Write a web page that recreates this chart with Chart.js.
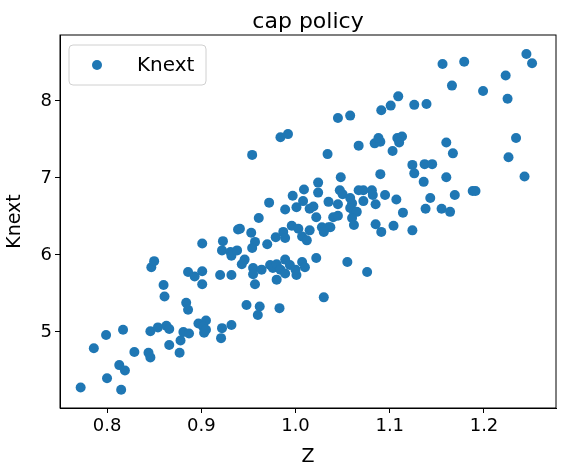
<!DOCTYPE html>
<html>
<head>
<meta charset="utf-8">
<script src="https://cdn.jsdelivr.net/npm/chart.js@4"></script>
<style>
  body { margin: 0; background: #fff; }
  #wrap { width: 564px; height: 472px; }
</style>
</head>
<body>
<div id="wrap"><canvas id="chart" width="564" height="472"></canvas></div>
<script>
const zValues = [
  1.245, 1.251, 1.156, 1.179, 1.223, 1.166, 1.199, 1.225, 1.109, 1.101,
  1.091, 1.126, 1.139, 1.045, 1.058, 1.234, 1.226, 1.243, 1.160, 1.167,
  1.067, 1.034, 1.084, 1.090, 1.088, 1.108, 1.113, 1.110, 1.103, 1.124,
  1.126, 1.137, 1.145, 1.090, 1.136, 1.160, 1.048, 1.047, 1.050, 1.067,
  1.072, 1.081, 1.082, 1.188, 1.191, 1.169, 1.095, 1.107, 1.143, 1.058,
  1.060, 1.058, 1.062, 1.065, 1.072, 1.035, 1.045, 1.085, 1.114, 1.138,
  1.155, 1.164, 1.040, 1.045, 1.060, 1.062, 1.028, 1.035, 1.037, 1.085,
  1.091, 1.104, 1.124, 1.055, 1.076, 1.024, 1.024, 1.009, 0.997, 1.008,
  0.972, 0.989, 1.001, 1.015, 1.019, 1.022, 0.961, 0.941, 0.953, 0.957,
  0.954, 0.970, 0.979, 0.987, 0.989, 0.996, 1.003, 1.007, 1.012, 1.015,
  1.030, 0.946, 0.943, 0.955, 0.955, 0.957, 0.964, 0.973, 0.976, 0.980,
  0.984, 0.989, 0.989, 0.980, 0.994, 1.001, 1.007, 1.010, 1.000, 1.022,
  1.030, 0.948, 0.962, 0.960, 0.983, 0.772, 0.800, 0.815, 0.813, 0.819,
  0.786, 0.799, 0.817, 0.829, 0.844, 0.846, 0.846, 0.854, 0.863, 0.866,
  0.866, 0.877, 0.878, 0.881, 0.887, 0.897, 0.905, 0.902, 0.903, 0.905,
  0.921, 0.922, 0.932, 0.884, 0.886, 0.860, 0.861, 0.847, 0.850, 0.886,
  0.893, 0.901, 0.901, 0.901, 0.920, 0.932, 0.923, 0.922, 0.931, 0.932,
  0.938, 0.939, 0.984, 0.992, 0.954
];
const knextValues = [
  8.61, 8.49, 8.48, 8.51, 8.33, 8.20, 8.13, 8.03, 8.06, 7.94,
  7.88, 7.95, 7.96, 7.78, 7.81, 7.52, 7.27, 7.02, 7.46, 7.32,
  7.42, 7.31, 7.45, 7.47, 7.52, 7.52, 7.54, 7.46, 7.35, 7.17,
  7.06, 7.18, 7.18, 7.05, 6.95, 7.01, 7.01, 6.84, 6.79, 6.84,
  6.84, 6.84, 6.78, 6.83, 6.83, 6.78, 6.78, 6.72, 6.74, 6.74,
  6.67, 6.61, 6.56, 6.56, 6.70, 6.69, 6.66, 6.66, 6.55, 6.60,
  6.60, 6.56, 6.49, 6.51, 6.48, 6.39, 6.36, 6.36, 6.36, 6.40,
  6.30, 6.38, 6.32, 5.91, 5.78, 6.94, 6.81, 6.85, 6.77, 6.70,
  6.68, 6.59, 6.62, 6.60, 6.63, 6.49, 6.48, 6.34, 6.29, 6.17,
  6.09, 6.14, 6.23, 6.30, 6.22, 6.38, 6.34, 6.24, 6.19, 6.32,
  6.30, 5.94, 5.88, 5.83, 5.75, 5.62, 5.81, 5.87, 5.83, 5.88,
  5.81, 5.94, 5.76, 5.68, 5.87, 5.74, 5.91, 5.84, 5.81, 5.96,
  5.45, 5.35, 5.33, 5.22, 5.31, 4.28, 4.40, 4.25, 4.57, 4.50,
  4.79, 4.96, 5.03, 4.74, 4.73, 4.67, 5.01, 5.06, 5.08, 5.04,
  4.83, 4.73, 4.89, 5.00, 4.98, 5.11, 5.15, 5.07, 4.99, 5.03,
  4.92, 5.05, 5.09, 5.38, 5.29, 5.61, 5.46, 5.84, 5.92, 5.78,
  5.72, 5.79, 5.62, 6.15, 5.74, 5.74, 6.18, 6.06, 6.04, 5.99,
  6.06, 6.33, 7.53, 7.57, 7.30
];
const xTicks = [0.8, 0.9, 1.0, 1.1, 1.2];
const xTickLabels = ['0.8', '0.9', '1.0', '1.1', '1.2'];
const yTicks = [5, 6, 7, 8];
const yTickLabels = ['5', '6', '7', '8'];

const blue = '#1f77b4';
const font = 'DejaVu Sans';

const extras = {
  id: 'extras',
  afterDraw(chart) {
    const { ctx, chartArea: a } = chart;
    ctx.save();
    ctx.strokeStyle = '#000';
    ctx.lineWidth = 1;
    ctx.strokeRect(a.left, a.top, a.right - a.left, a.bottom - a.top);
    // title
    ctx.fillStyle = '#000';
    ctx.font = '22px "' + font + '"';
    ctx.textAlign = 'center';
    ctx.textBaseline = 'alphabetic';
    ctx.fillText('cap policy', (a.left + a.right) / 2, 28);
    // legend
    const lx = a.left + 9, ly = a.top + 10, lw = 137, lh = 40;
    ctx.beginPath();
    ctx.roundRect(lx, ly, lw, lh, 4);
    ctx.fillStyle = 'rgba(255,255,255,0.8)';
    ctx.fill();
    ctx.strokeStyle = '#d0d0d0';
    ctx.stroke();
    ctx.beginPath();
    ctx.arc(lx + 28, ly + 20, 5, 0, Math.PI * 2);
    ctx.fillStyle = blue;
    ctx.fill();
    ctx.fillStyle = '#000';
    ctx.font = '20px "' + font + '"';
    ctx.textAlign = 'left';
    ctx.textBaseline = 'middle';
    ctx.fillText('Knext', lx + 68, ly + 21);
    ctx.restore();
  }
};

new Chart(document.getElementById('chart'), {
  type: 'scatter',
  data: {
    datasets: [{
      label: 'Knext',
      data: zValues.map((z, i) => ({ x: z, y: knextValues[i] })),
      backgroundColor: blue,
      borderWidth: 0,
      pointRadius: 5,
      pointHoverRadius: 5
    }]
  },
  options: {
    responsive: false,
    animation: false,
    layout: { padding: { top: 35, right: 8, left: 0, bottom: 0 } },
    plugins: { legend: { display: false }, tooltip: { enabled: false }, title: { display: false } },
    scales: {
      x: {
        type: 'linear',
        min: 0.7501,
        max: 1.2764,
        afterBuildTicks: s => { s.ticks = xTicks.map(v => ({ value: v })); },
        afterFit: s => { s.height = 64; },
        ticks: {
          color: '#000', font: { family: font, size: 18 }, padding: 3,
          callback: v => xTickLabels[xTicks.indexOf(v)]
        },
        grid: { drawOnChartArea: false, drawTicks: true, tickLength: 5, color: '#000' },
        border: { color: '#000' },
        title: { display: true, text: 'Z', color: '#000', font: { family: font, size: 19 }, padding: { top: 0 } }
      },
      y: {
        type: 'linear',
        min: 4.013,
        max: 8.857,
        afterBuildTicks: s => { s.ticks = yTicks.map(v => ({ value: v })); },
        afterFit: s => { s.width = 60; },
        ticks: {
          color: '#000', font: { family: font, size: 18 }, padding: 3,
          callback: v => yTickLabels[yTicks.indexOf(v)]
        },
        grid: { drawOnChartArea: false, drawTicks: true, tickLength: 5, color: '#000' },
        border: { color: '#000' },
        title: { display: true, text: 'Knext', color: '#000', font: { family: font, size: 19 }, padding: { bottom: 4 } }
      }
    }
  },
  plugins: [extras]
});
</script>
</body>
</html>
